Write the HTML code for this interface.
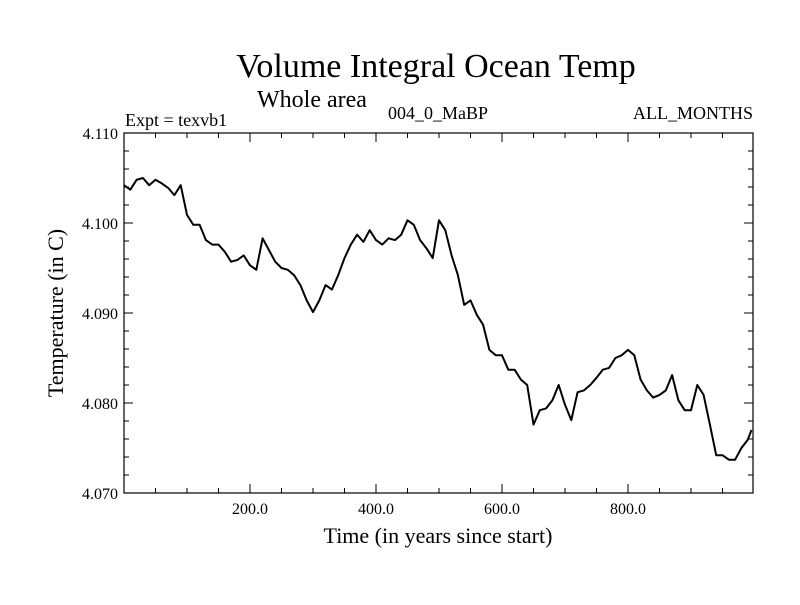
<!DOCTYPE html>
<html><head><meta charset="utf-8"><style>
body{margin:0;background:#fff;}
svg text{font-family:"Liberation Serif",serif;fill:#000;}
</style></head><body>
<svg id="chart" width="800" height="600" xmlns="http://www.w3.org/2000/svg">
<text x="436" y="77" font-size="34" text-anchor="middle">Volume Integral Ocean Temp</text>
<text x="257" y="107" font-size="24">Whole area</text>
<text x="125" y="126" font-size="18">Expt = texvb1</text>
<text x="438" y="119" font-size="18" text-anchor="middle">004_0_MaBP</text>
<text x="753" y="119" font-size="18" text-anchor="end">ALL_MONTHS</text>
<text transform="translate(63,313) rotate(-90)" font-size="22" text-anchor="middle">Temperature (in C)</text>
<text x="438" y="543" font-size="22" text-anchor="middle">Time (in years since start)</text>
<g id="axes"></g>
<g id="series"></g>
<rect x="124" y="133" width="629" height="360" fill="none" stroke="#000" stroke-width="1.2"/>
</svg>
<script>
const xTicks=[200,400,600,800];
const xTickLabels=["200.0","400.0","600.0","800.0"];
const yTicks=[4.070,4.080,4.090,4.100,4.110];
const yTickLabels=["4.070","4.080","4.090","4.100","4.110"];
const years=[0,10,20,30,40,50,60,70,80,90,100,110,120,130,140,150,160,170,180,190,200,210,220,230,240,250,260,270,280,290,300,310,320,330,340,350,360,370,380,390,400,410,420,430,440,450,460,470,480,490,500,510,520,530,540,550,560,570,580,590,600,610,620,630,640,650,660,670,680,690,700,710,720,730,740,750,760,770,780,790,800,810,820,830,840,850,860,870,880,890,900,910,920,930,940,950,960,970,980,990,996];
const temps=[4.1042,4.1037,4.1048,4.1050,4.1042,4.1048,4.1044,4.1039,4.1031,4.1042,4.1009,4.0998,4.0998,4.0981,4.0976,4.0976,4.0968,4.0957,4.0959,4.0964,4.0953,4.0948,4.0983,4.0970,4.0957,4.0950,4.0948,4.0942,4.0931,4.0914,4.0901,4.0914,4.0931,4.0926,4.0942,4.0961,4.0976,4.0987,4.0979,4.0992,4.0981,4.0976,4.0983,4.0981,4.0987,4.1003,4.0998,4.0981,4.0972,4.0961,4.1003,4.0992,4.0964,4.0942,4.0909,4.0914,4.0898,4.0887,4.0859,4.0853,4.0853,4.0837,4.0837,4.0826,4.0820,4.0776,4.0792,4.0794,4.0803,4.0820,4.0798,4.0781,4.0812,4.0814,4.0820,4.0828,4.0837,4.0839,4.0850,4.0853,4.0859,4.0853,4.0826,4.0814,4.0806,4.0809,4.0814,4.0831,4.0803,4.0792,4.0792,4.0820,4.0809,4.0776,4.0742,4.0742,4.0737,4.0737,4.0750,4.0759,4.0770];
const X0=124,X1=753,Y0=493,Y1=133;
const xScale=t=>X0+(t-0)*(X1-X0)/998.4;
const yScale=v=>Y0-(v-4.070)*(Y0-Y1)/0.040;
const NS="http://www.w3.org/2000/svg";
const axes=document.getElementById('axes');
function line(x1,y1,x2,y2,name){const l=document.createElementNS(NS,'line');
l.setAttribute('x1',x1);l.setAttribute('y1',y1);l.setAttribute('x2',x2);l.setAttribute('y2',y2);
l.setAttribute('stroke','#000');l.setAttribute('stroke-width','1');


axes.appendChild(l);}
for(let t=50;t<1000;t+=50){const x=xScale(t);const len=(t%200===0)?9:5;
line(x,Y0,x,Y0-len,'x-tick');line(x,Y1,x,Y1+len,'x-tick-top');}
for(let v=4.072;v<4.1099;v+=0.002){const y=yScale(v);const major=Math.abs(Math.round(v*100)-v*100)<1e-6;const len=major?9:5;
line(X0,y,X0+len,y,'y-tick');line(X1,y,X1-len,y,'y-tick-right');}
xTicks.forEach((t,i)=>{const tx=document.createElementNS(NS,'text');
tx.setAttribute('x',xScale(t));tx.setAttribute('y',Y0+21);tx.setAttribute('font-size','16');tx.setAttribute('text-anchor','middle');
tx.textContent=xTickLabels[i];


axes.appendChild(tx);});
yTicks.forEach((v,i)=>{const tx=document.createElementNS(NS,'text');
tx.setAttribute('x',X0-6);tx.setAttribute('y',yScale(v)+6);tx.setAttribute('font-size','16');tx.setAttribute('text-anchor','end');
tx.textContent=yTickLabels[i];


axes.appendChild(tx);});
const p=document.createElementNS(NS,'polyline');
p.setAttribute('points',years.map((t,i)=>xScale(t).toFixed(1)+','+yScale(temps[i]).toFixed(1)).join(' '));
p.setAttribute('fill','none');p.setAttribute('stroke','#000');p.setAttribute('stroke-width','2');p.setAttribute('stroke-linejoin','round');


document.getElementById('series').appendChild(p);
</script>
</body></html>
